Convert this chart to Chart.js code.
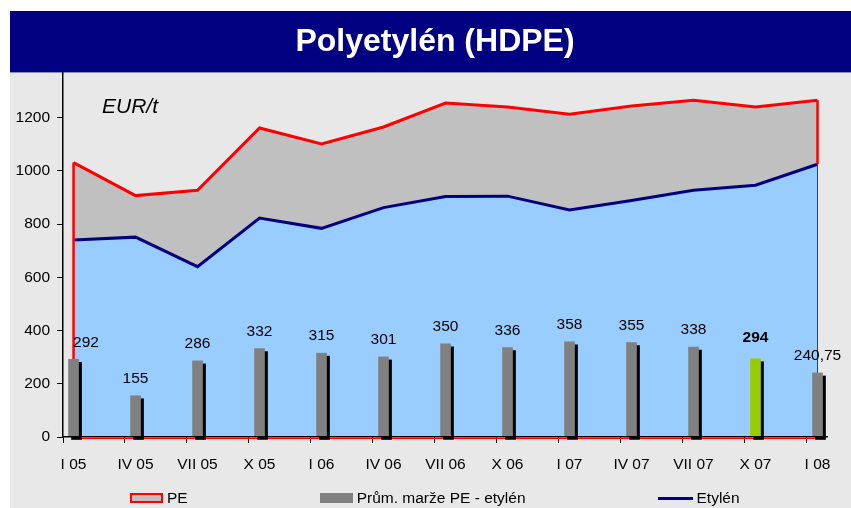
<!DOCTYPE html>
<html lang="cs">
<head>
<meta charset="UTF-8">
<title>Polyetylén (HDPE)</title>
<script src="https://cdn.jsdelivr.net/npm/chart.js"></script>
<style>
  body { margin: 0; background: #fff; font-family: "Liberation Sans", Arial, sans-serif; }
  #wrap { position: absolute; left: 10px; top: 11px; width: 841px; height: 497px; background: #e8e8e8; }
  #legend { position: absolute; left: 120px; top: 478px; display: flex; gap: 132px; font-size: 15.5px; line-height: 18px; color: #000; }
  .item { display: flex; align-items: center; gap: 4px; }
  .box { width: 33px; height: 10px; box-sizing: border-box; }
  .line { width: 35px; height: 3px; }
</style>
</head>
<body>
<div id="wrap">
  <canvas id="chart" width="841" height="497"></canvas>
  <div id="legend"></div>
</div>

<script>
// data (EUR/t)
const periods = ['I 05', 'IV 05', 'VII 05', 'X 05', 'I 06', 'IV 06', 'VII 06', 'X 06', 'I 07', 'IV 07', 'VII 07', 'X 07', 'I 08'];
const pePrices = [1031, 907, 927, 1161, 1101, 1165, 1255, 1240, 1213, 1244, 1265, 1240, 1265];
const ethylenePrices = [740, 751, 640, 823, 784, 862, 904, 905, 853, 889, 927, 946, 1025];
const margins = [292, 155, 286, 332, 315, 301, 350, 336, 358, 355, 338, 294, 240.75];
const highlightPeriod = 'X 07';
const yTicks = [0, 200, 400, 600, 800, 1000, 1200];

const FONT = '"Liberation Sans", Arial, sans-serif';
const toPoints = vals => vals.map((v, i) => ({ x: i, y: v }));
const fmt = v => String(v).replace('.', ',');

// navy banner behind the title, title centred on the whole panel
const bannerPlugin = {
	id: 'banner',
	afterLayout(chart) {
		chart.titleBlock.left = 9;
		chart.titleBlock.right = chart.width;
	},
	beforeDraw(chart) {
		const t = chart.titleBlock;
		const ctx = chart.ctx;
		ctx.save();
		ctx.fillStyle = '#000080';
		ctx.fillRect(0, t.top, chart.width, t.height);
		ctx.restore();
	}
};

// excel style outline of the areas (sides + bottom)
const areaEdgePlugin = {
	id: 'areaEdges',
	afterDatasetDraw(chart, args) {
		if (args.index !== 2) return;
		const ctx = chart.ctx;
		const pe = chart.getDatasetMeta(0).data;
		const et = chart.getDatasetMeta(2).data;
		const y0 = chart.scales.y.getPixelForValue(0);
		const first = pe[0], last = pe[pe.length - 1], etLast = et[et.length - 1];
		ctx.save();
		ctx.lineWidth = 1;
		ctx.strokeStyle = '#ff0000';
		ctx.beginPath();
		ctx.moveTo(first.x, y0 + 1.5);
		ctx.lineTo(last.x, y0 + 1.5);
		ctx.stroke();
		ctx.strokeStyle = '#404040';
		ctx.beginPath();
		ctx.moveTo(last.x, y0);
		ctx.lineTo(last.x, etLast.y);
		ctx.stroke();
		ctx.lineWidth = 2.5;
		ctx.strokeStyle = '#ff0000';
		ctx.beginPath();
		ctx.moveTo(first.x, y0);
		ctx.lineTo(first.x, first.y);
		ctx.moveTo(last.x, etLast.y);
		ctx.lineTo(last.x, last.y);
		ctx.stroke();
		ctx.restore();
	}
};

// black drop shadow on the bars
const barShadowPlugin = {
	id: 'barShadow',
	beforeDatasetDraw(chart, args) {
		if (args.index !== 1) return;
		const ctx = chart.ctx;
		ctx.save();
		ctx.shadowColor = '#000';
		ctx.shadowBlur = 0;
		ctx.shadowOffsetX = 3;
		ctx.shadowOffsetY = 3;
	},
	afterDatasetDraw(chart, args) {
		if (args.index !== 1) return;
		chart.ctx.restore();
	}
};

// value labels above bars + unit text
const labelsPlugin = {
	id: 'labels',
	afterDatasetsDraw(chart) {
		const ctx = chart.ctx;
		const bars = chart.getDatasetMeta(1).data;
		ctx.save();
		ctx.fillStyle = '#000';
		ctx.textAlign = 'center';
		ctx.textBaseline = 'middle';
		bars.forEach((bar, i) => {
			const bold = periods[i] === highlightPeriod;
			ctx.font = (bold ? 'bold ' : '') + '15.5px ' + FONT;
			const dx = i === 0 ? 12.5 : 0; // first label sits clear of the axis
			ctx.fillText(fmt(margins[i]), bar.x + dx, bar.y - (bold ? 21 : 17));
		});
		const a = chart.chartArea;
		ctx.textAlign = 'left';
		ctx.font = 'italic 21px ' + FONT;
		ctx.fillText('EUR/t', a.left + 39, a.top + 35);
		ctx.restore();
	}
};

const chart = new Chart(document.getElementById('chart'), {
	type: 'line',
	data: {
		datasets: [{
			label: 'PE',
			data: toPoints(pePrices),
			borderColor: '#ff0000',
			backgroundColor: '#c0c0c0',
			borderWidth: 3,
			fill: 'origin',
			pointRadius: 0,
			order: 3,
			legendStyle: 'box'
		}, {
			type: 'bar',
			label: 'Prům. marže PE - etylén',
			data: toPoints(margins),
			backgroundColor: periods.map(p => p === highlightPeriod ? '#99cc00' : '#808080'),
			borderWidth: 0,
			barThickness: 10,
			clip: false,
			order: 1,
			legendStyle: 'box'
		}, {
			label: 'Etylén',
			data: toPoints(ethylenePrices),
			borderColor: '#000080',
			backgroundColor: '#99ccff',
			borderWidth: 3,
			fill: 'origin',
			pointRadius: 0,
			order: 2,
			legendStyle: 'line'
		}]
	},
	options: {
		responsive: false,
		animation: false,
		events: [],
		layout: { padding: { left: 0, right: 24, top: 0, bottom: 31 } },
		elements: { line: { tension: 0 } },
		plugins: {
			legend: { display: false },
			tooltip: { enabled: false },
			title: {
				display: true,
				text: 'Polyetylén (HDPE)',
				color: '#fff',
				font: { family: FONT, size: 32, weight: 'bold' },
				padding: { top: 12, bottom: 11 }
			}
		},
		scales: {
			x: {
				type: 'linear',
				min: -0.17,
				max: 12.153,
				offset: false,
				afterBuildTicks: s => { s.ticks = periods.map((p, i) => ({ value: i - 0.17 })); },
				afterFit: s => { s.height = 40; },
				ticks: {
					callback: (v, i) => periods[i],
					labelOffset: 10.5,
					autoSkip: false,
					maxRotation: 0,
					padding: 12,
					color: '#000',
					font: { family: FONT, size: 15.5 }
				},
				grid: { drawOnChartArea: false, offset: false, tickLength: 6, color: '#000', tickColor: '#000' },
				border: { color: '#000', width: 1.5, z: 1 }
			},
			y: {
				min: 0,
				max: 1370,
				afterBuildTicks: s => { s.ticks = yTicks.map(v => ({ value: v })); },
				afterFit: s => { s.width = 53; },
				ticks: {
					callback: v => String(v),
					padding: 7,
					color: '#000',
					font: { family: FONT, size: 15.5 }
				},
				grid: { drawOnChartArea: false, tickLength: 6, color: '#000', tickColor: '#000' },
				border: { color: '#000', width: 1.5 }
			}
		}
	},
	plugins: [bannerPlugin, areaEdgePlugin, barShadowPlugin, labelsPlugin]
});

// html legend built from the datasets
const legend = document.getElementById('legend');
chart.data.datasets.forEach(ds => {
	const item = document.createElement('div');
	item.className = 'item';
	const mark = document.createElement('span');
	if (ds.legendStyle === 'line') {
		mark.className = 'line';
		mark.style.background = ds.borderColor;
	} else {
		mark.className = 'box';
		mark.style.background = Array.isArray(ds.backgroundColor) ? ds.backgroundColor[0] : ds.backgroundColor;
		if (ds.type !== 'bar') mark.style.border = '2px solid ' + ds.borderColor;
	}
	const txt = document.createElement('span');
	txt.textContent = ds.label;
	item.appendChild(mark);
	item.appendChild(txt);
	legend.appendChild(item);
});
</script>
</body>
</html>
